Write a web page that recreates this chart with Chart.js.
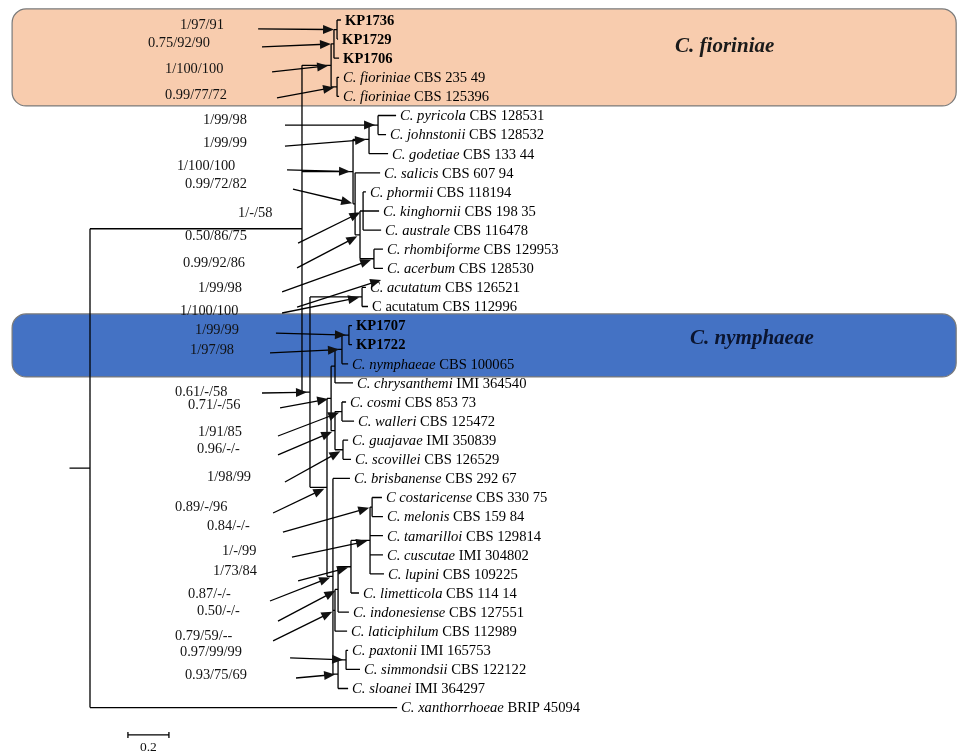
<!DOCTYPE html>
<html>
<head>
<meta charset="utf-8">
<script src="https://cdn.jsdelivr.net/npm/chart.js@4.4.1/dist/chart.umd.min.js"></script>
<style>
html,body{margin:0;padding:0;background:#fff;}
#wrap{width:957px;height:752px;position:relative;}
</style>
</head>
<body>
<div id="wrap"><canvas id="tree"></canvas></div>
<script>
// tips, top to bottom (row = index)
const tipNames = ['KP1736','KP1729','KP1706','C. fioriniae','C. fioriniae','C. pyricola','C. johnstonii','C. godetiae',
  'C. salicis','C. phormii','C. kinghornii','C. australe','C. rhombiforme','C. acerbum','C. acutatum','C acutatum',
  'KP1707','KP1722','C. nymphaeae','C. chrysanthemi','C. cosmi','C. walleri','C. guajavae','C. scovillei',
  'C. brisbanense','C costaricense','C. melonis','C. tamarilloi','C. cuscutae','C. lupini','C. limetticola',
  'C. indonesiense','C. laticiphilum','C. paxtonii','C. simmondsii','C. sloanei','C. xanthorrhoeae'];
const tipStrains = ['','','','CBS 235 49','CBS 125396','CBS 128531','CBS 128532','CBS 133 44',
  'CBS 607 94','CBS 118194','CBS 198 35','CBS 116478','CBS 129953','CBS 128530','CBS 126521','CBS 112996',
  '','','CBS 100065','IMI 364540','CBS 853 73','CBS 125472','IMI 350839','CBS 126529',
  'CBS 292 67','CBS 330 75','CBS 159 84','CBS 129814','IMI 304802','CBS 109225','CBS 114 14',
  'CBS 127551','CBS 112989','IMI 165753','CBS 122122','IMI 364297','BRIP 45094'];
// distance of each tip from the root node (substitutions per site)
const tipDepth = [1.224,1.210,1.215,1.215,1.215,1.493,1.444,1.454,
  1.415,1.346,1.410,1.420,1.429,1.429,1.346,1.356,
  1.278,1.278,1.259,1.283,1.249,1.288,1.259,1.273,
  1.268,1.424,1.429,1.429,1.429,1.434,1.312,
  1.263,1.254,1.259,1.317,1.259,1.498];

// internal nodes, children first
const nodeIds = ['FA','FA2','FB','F','PJ','G','PK','RA','K2','S','P','AC','KK','NK','NY1','CW','GS','M2','M',
  'CM','CL1','LI','IN','LA','PS','Z','Y','X','N2','N1','R'];
const nodeDepth = [1.205,1.190,1.205,1.176,1.405,1.361,1.332,1.385,1.317,1.293,1.283,1.327,1.263,1.229,1.195,1.229,1.234,1.195,1.176,
  1.376,1.366,1.273,1.210,1.195,1.249,1.210,1.185,1.156,1.073,1.034,0];
const nodeChildren = [[0,1],['FA',2],[3,4],['FA2','FB'],[5,6],['PJ',7],[9,10,11],[12,13],['PK','RA'],[8,'K2'],['G','S'],[14,15],
  [16,17],['KK',18],['NK',19],[20,21],[22,23],['CW','GS'],['NY1','M2'],
  [25,26],['CM',27,28,29],['CL1',30],['LI',31],['IN',32],[33,34],['PS',35],[24,'LA','Z'],['M','Y'],['AC','X'],['F','P','N2'],['N1',36]];
const rootStem = -0.1;

// support values (PP/ML/MP) and the node each arrow points to
const supportText = ['1/97/91','0.75/92/90','1/100/100','0.99/77/72','1/99/98','1/99/99','1/100/100','0.99/72/82','1/-/58',
  '0.50/86/75','0.99/92/86','1/99/98','1/100/100','1/99/99','1/97/98','0.61/-/58','0.71/-/56','1/91/85','0.96/-/-',
  '1/98/99','0.89/-/96','0.84/-/-','1/-/99','1/73/84','0.87/-/-','0.50/-/-','0.79/59/--','0.97/99/99','0.93/75/69'];
const supportNode = ['FA','FA2','F','FB','PJ','G','P','S','',
  'PK','K2','RA','AC','KK','NK','N2','M','CW','M2',
  'GS','X','CM','CL1','LI','Y','IN','LA','PS','Z'];

// highlighted clades
const cladeNames = ['C. fioriniae','C. nymphaeae'];
const cladeRows = [[-0.58,4.50],[15.39,18.69]];
const scaleBar = 0.2;

// ---- layout (data units: x = substitutions, y = row) ----
const supportPos = [[0.439,0.26],[0.283,1.20],[0.366,2.57],[0.366,3.93],[0.551,5.24],[0.551,6.44],[0.424,7.64],[0.463,8.59],[0.722,10.10],
  [0.463,11.31],[0.454,12.72],[0.527,14.03],[0.439,15.24],[0.512,16.23],[0.488,17.28],[0.415,19.48],[0.478,20.16],[0.527,21.57],[0.522,22.46],
  [0.571,23.93],[0.415,25.50],[0.571,26.49],[0.644,27.80],[0.600,28.85],[0.478,30.05],[0.522,30.94],[0.415,32.25],[0.439,33.09],[0.463,34.29]];
const arrowFrom = [[0.820,0.47],[0.839,1.41],[0.888,2.72],[0.912,4.08],[0.951,5.50],[0.951,6.60],[0.961,7.85],[0.990,8.85],null,
  [1.015,11.68],[1.010,12.98],[0.937,14.24],[0.937,15.34],[0.907,16.39],[0.878,17.43],[0.839,19.53],[0.927,20.31],[0.917,21.78],[0.917,22.77],
  [0.951,24.19],[0.893,25.81],[0.941,26.81],[0.985,28.12],[1.015,29.37],[0.878,30.42],[0.917,31.47],[0.893,32.51],[0.976,33.40],[1.005,34.45]];
const extraArrow = [[1.010,15.03],[1.434,13.56]];
const cladeLabelPos = [[2.854,1.41],[2.927,16.70]];
const cladeFill = ['rgb(248,204,174)','rgb(68,114,196)'];
const bandX = [-0.380,4.225];
const scaleBarPos = [0.185,37.43];

// ---- tree geometry ----
const nodeY = {};
function xOf(c){ return typeof c === 'number' ? tipDepth[c] : nodeDepth[nodeIds.indexOf(c)]; }
function yOf(c){
  if (typeof c === 'number') return c;
  if (nodeY[c] === undefined) {
    const kids = nodeChildren[nodeIds.indexOf(c)];
    nodeY[c] = (yOf(kids[0]) + yOf(kids[kids.length-1])) / 2;
  }
  return nodeY[c];
}
const pts = [];
nodeIds.forEach((id,i)=>{
  const kids = nodeChildren[i];
  const ys = kids.map(yOf);
  pts.push({x:nodeDepth[i],y:Math.min(...ys)},{x:nodeDepth[i],y:Math.max(...ys)},{x:null,y:null});
  kids.forEach(k=>{ pts.push({x:nodeDepth[i],y:yOf(k)},{x:xOf(k),y:yOf(k)},{x:null,y:null}); });
});
pts.push({x:rootStem,y:yOf('R')},{x:0,y:yOf('R')});

function roundRect(ctx,x,y,w,h,r){
  ctx.beginPath();
  ctx.moveTo(x+r,y); ctx.lineTo(x+w-r,y); ctx.arcTo(x+w,y,x+w,y+r,r);
  ctx.lineTo(x+w,y+h-r); ctx.arcTo(x+w,y+h,x+w-r,y+h,r);
  ctx.lineTo(x+r,y+h); ctx.arcTo(x,y+h,x,y+h-r,r);
  ctx.lineTo(x,y+r); ctx.arcTo(x,y,x+r,y,r); ctx.closePath();
}
function arrow(ctx,x1,y1,x2,y2){
  const a = Math.atan2(y2-y1,x2-x1);
  const ex = x2-3*Math.cos(a), ey = y2-3*Math.sin(a);
  ctx.beginPath(); ctx.moveTo(x1,y1); ctx.lineTo(ex-6*Math.cos(a),ey-6*Math.sin(a)); ctx.stroke();
  ctx.beginPath();
  ctx.moveTo(ex,ey);
  ctx.lineTo(ex-11*Math.cos(a)+4.5*Math.sin(a), ey-11*Math.sin(a)-4.5*Math.cos(a));
  ctx.lineTo(ex-11*Math.cos(a)-4.5*Math.sin(a), ey-11*Math.sin(a)+4.5*Math.cos(a));
  ctx.closePath(); ctx.fill();
}

const treeDecor = {
  id:'treeDecor',
  beforeDatasetsDraw(chart){
    const {ctx, scales:{x,y}} = chart;
    ctx.save();
    cladeRows.forEach((r,i)=>{
      const x0 = x.getPixelForValue(bandX[0]), x1 = x.getPixelForValue(bandX[1]);
      const y0 = y.getPixelForValue(r[0]), y1 = y.getPixelForValue(r[1]);
      roundRect(ctx,x0,y0,x1-x0,y1-y0,14);
      ctx.fillStyle = cladeFill[i]; ctx.fill();
      ctx.strokeStyle = '#7a7a7a'; ctx.lineWidth = 1.2; ctx.stroke();
    });
    ctx.restore();
  },
  afterDatasetsDraw(chart){
    const {ctx, scales:{x,y}} = chart;
    ctx.save();
    ctx.textBaseline = 'middle';
    ctx.fillStyle = '#000';
    // tip labels
    tipNames.forEach((n,i)=>{
      let px = x.getPixelForValue(tipDepth[i]) + 4, py = y.getPixelForValue(i) + 1;
      if (n.startsWith('KP')) {
        ctx.font = 'bold 14.6px "Liberation Serif"';
        ctx.fillText(n,px,py);
        return;
      }
      const upright = n === 'C acutatum';
      ctx.font = (upright ? '' : 'italic ') + '14.6px "Liberation Serif"';
      ctx.fillText(n,px,py);
      px += ctx.measureText(n + ' ').width;
      ctx.font = '14.6px "Liberation Serif"';
      ctx.fillText(tipStrains[i],px,py);
    });
    // support values and arrows
    ctx.font = '14.4px "Liberation Serif"';
    ctx.fillStyle = '#111';
    ctx.strokeStyle = '#000';
    ctx.lineWidth = 1.3;
    supportText.forEach((t,i)=>{
      ctx.fillText(t, x.getPixelForValue(supportPos[i][0]), y.getPixelForValue(supportPos[i][1]));
      if (!supportNode[i]) return;
      const n = supportNode[i];
      arrow(ctx, x.getPixelForValue(arrowFrom[i][0]), y.getPixelForValue(arrowFrom[i][1]),
        x.getPixelForValue(xOf(n)), y.getPixelForValue(yOf(n)));
    });
    arrow(ctx, x.getPixelForValue(extraArrow[0][0]), y.getPixelForValue(extraArrow[0][1]),
      x.getPixelForValue(extraArrow[1][0]), y.getPixelForValue(extraArrow[1][1]));
    // clade names
    ctx.font = 'bold italic 21px "Liberation Serif"';
    cladeNames.forEach((c,i)=>{
      ctx.fillStyle = i === 0 ? '#1a1a1a' : '#0b1530';
      ctx.fillText(c, x.getPixelForValue(cladeLabelPos[i][0]), y.getPixelForValue(cladeLabelPos[i][1]));
    });
    // scale bar
    const sx0 = x.getPixelForValue(scaleBarPos[0]), sx1 = x.getPixelForValue(scaleBarPos[0]+scaleBar);
    const sy = y.getPixelForValue(scaleBarPos[1]);
    ctx.strokeStyle = '#000'; ctx.lineWidth = 1.3;
    ctx.beginPath();
    ctx.moveTo(sx0,sy); ctx.lineTo(sx1,sy);
    ctx.moveTo(sx0,sy-3); ctx.lineTo(sx0,sy+3);
    ctx.moveTo(sx1,sy-3); ctx.lineTo(sx1,sy+3);
    ctx.stroke();
    ctx.fillStyle = '#111';
    ctx.font = '13.5px "Liberation Serif"';
    ctx.textAlign = 'center';
    ctx.fillText(String(scaleBar), (sx0+sx1)/2, sy+13);
    ctx.restore();
  }
};

new Chart('tree', {
  type: 'scatter',
  data: {
    datasets: [{
      data: pts,
      showLine: true,
      borderColor: '#000',
      borderWidth: 1.3,
      pointRadius: 0,
      tension: 0,
      spanGaps: false
    }]
  },
  options: {
    responsive: true,
    maintainAspectRatio: false,
    animation: false,
    events: [],
    layout: { padding: 0 },
    plugins: { legend: { display: false }, tooltip: { enabled: false } },
    scales: {
      x: { type: 'linear', min: -0.439, max: 4.229, display: false },
      y: { type: 'linear', min: -1.047, max: 38.325, reverse: true, display: false }
    }
  },
  plugins: [treeDecor]
});
</script>
</body>
</html>
